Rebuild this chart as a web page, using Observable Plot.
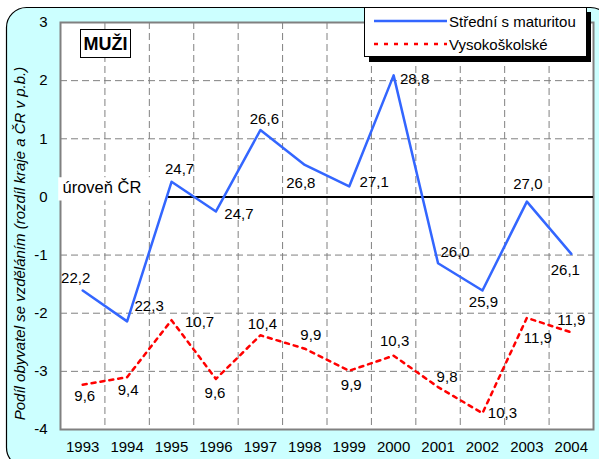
<!DOCTYPE html>
<html><head><meta charset="utf-8">
<script src="https://cdn.jsdelivr.net/npm/d3@7"></script>
<script src="https://cdn.jsdelivr.net/npm/@observablehq/plot@0.6"></script>
<style>body{margin:0;background:#fff;font-family:Arial,"Liberation Sans",sans-serif}</style>
</head><body><div id="chart"></div>
<script>
const years = [1993,1994,1995,1996,1997,1998,1999,2000,2001,2002,2003,2004];
const stredni = [-1.61,-2.14,0.26,-0.25,1.15,0.55,0.18,2.09,-1.14,-1.61,-0.08,-0.98];
const vysoko = [-3.23,-3.10,-2.12,-3.13,-2.38,-2.61,-2.99,-2.73,-3.27,-3.72,-2.08,-2.33];
const stredniLabels = ["22,2","22,3","24,7","24,7","26,6","26,8","27,1","28,8","26,0","25,9","27,0","26,1"];
const vysokoLabels = ["9,6","9,4","10,7","9,6","10,4","9,9","9,9","10,3","9,8","10,3","11,9","11,9"];
const yTicks = [-4,-3,-2,-1,0,1,2,3];
const seriesNames = ["Střední s maturitou","Vysokoškolské"];
const yTitle = "Podíl obyvatel se vzděláním (rozdíl kraje a ČR v p.b.)";
const panelTitle = "MUŽI";
const refLabel = "úroveň ČR";

// label placement (layout, in px)
const stredniOff = [[-7,-12],[22,-15],[8,-13],[23,3],[4,-11],[-4,18],[25,-4],[21,4],[17,-11],[1,12],[1,-17],[-6,16]];
const vysokoOff = [[2,11],[1,13],[28,2],[-1,14],[2,-11],[6,-13],[2,14],[1,-14],[9,-10],[20,0],[11,20],[0,-12]];

const blue = "#3366FF", red = "#FF0000";
const sData = years.map((x,i)=>({x, y: stredni[i], t: stredniLabels[i]}));
const vData = years.map((x,i)=>({x, y: vysoko[i], t: vysokoLabels[i]}));
const gridX = years.slice(0,-1).map(y=>y+0.5);
const gridY = yTicks.filter(v=>v>-4 && v<3);

const labelMarks = [
  ...sData.map((d,i)=>Plot.text([d],{x:"x",y:"y",text:"t",dx:stredniOff[i][0],dy:stredniOff[i][1],fontSize:15,fill:"#000"})),
  ...vData.map((d,i)=>Plot.text([d],{x:"x",y:"y",text:"t",dx:vysokoOff[i][0],dy:vysokoOff[i][1],fontSize:15,fill:"#000"}))
];

const chart = Plot.plot({
  width: 599, height: 459,
  marginLeft: 60, marginRight: 6, marginTop: 22, marginBottom: 30,
  style: {fontFamily: "Arial, 'Liberation Sans', sans-serif", fontSize: "15px", background: "transparent", color: "#000", overflow: "visible"},
  x: {domain: [1992.5, 2004.5], label: null},
  y: {domain: [-4, 3], label: null},
  marks: [
    Plot.frame({fill: "white", stroke: "none"}),
    Plot.ruleY(gridY, {stroke: "#808080", strokeDasharray: "7,4", strokeWidth: 1}),
    Plot.ruleX(gridX, {stroke: "#808080", strokeDasharray: "7,4", strokeWidth: 1}),
    Plot.frame({stroke: "#808080", strokeWidth: 2}),
    Plot.axisX(years, {tickSize: 0, tickPadding: 12, tickFormat: d => String(d), fontSize: 15, label: null}),
    Plot.axisY(yTicks, {tickSize: 0, tickPadding: 13, tickFormat: d => String(d), fontSize: 15, label: null}),
    Plot.rect([refLabel], {x1: 1992.46, x2: 1994.93, y1: -0.07, y2: 0.33, fill: "white"}),
    Plot.text([refLabel], {x: 1992.5, y: 0, text: d => d, textAnchor: "start", dx: 2, dy: -9, fontSize: 16.5}),
    Plot.ruleY([0], {x1: 1994.93, x2: 2004.5, stroke: "#000", strokeWidth: 2}),
    Plot.line(sData, {x: "x", y: "y", stroke: blue, strokeWidth: 2.5}),
    Plot.line(vData, {x: "x", y: "y", stroke: red, strokeWidth: 2.5, strokeDasharray: "4,5"}),
    ...labelMarks
  ]
});

const svg = d3.select(chart);
// background rounded panel
svg.insert("rect", ":first-child")
  .attr("x", 6.5).attr("y", 7.5).attr("width", 604).attr("height", 460)
  .attr("rx", 20).attr("fill", "#CCFFFF").attr("stroke", "#000").attr("stroke-width", 1.2);

// y title
svg.append("text").attr("transform", "translate(25,243.5) rotate(-90)")
  .attr("text-anchor", "middle").attr("font-style", "italic").attr("font-size", 15)
  .attr("fill", "#000").text(yTitle);

// panel title box
const tb = svg.append("g");
tb.append("rect").attr("x", 80.5).attr("y", 29.5).attr("width", 50).attr("height", 28)
  .attr("fill", "white").attr("stroke", "#000").attr("stroke-width", 1);
tb.append("text").attr("x", 105.5).attr("y", 50).attr("text-anchor", "middle")
  .attr("font-weight", "bold").attr("font-size", 18).attr("fill", "#000").text(panelTitle);

// legend
const lg = svg.append("g").attr("text-anchor", "start");
lg.append("rect").attr("x", 369).attr("y", 12).attr("width", 222).attr("height", 50).attr("fill", "#000");
lg.append("rect").attr("x", 364.5).attr("y", 7.5).attr("width", 222).attr("height", 49)
  .attr("fill", "white").attr("stroke", "#000").attr("stroke-width", 1);
lg.append("line").attr("x1", 374).attr("x2", 447).attr("y1", 21).attr("y2", 21)
  .attr("stroke", blue).attr("stroke-width", 2.5);
lg.append("line").attr("x1", 374).attr("x2", 447).attr("y1", 44).attr("y2", 44)
  .attr("stroke", red).attr("stroke-width", 2.5).attr("stroke-dasharray", "4,6");
lg.append("text").attr("x", 449).attr("y", 26.5).attr("text-anchor", "start").attr("font-size", 15).attr("fill", "#000").text(seriesNames[0]);
lg.append("text").attr("x", 449).attr("y", 50).attr("text-anchor", "start").attr("font-size", 15).attr("fill", "#000").text(seriesNames[1]);

document.getElementById("chart").appendChild(chart);
</script>
</body></html>
